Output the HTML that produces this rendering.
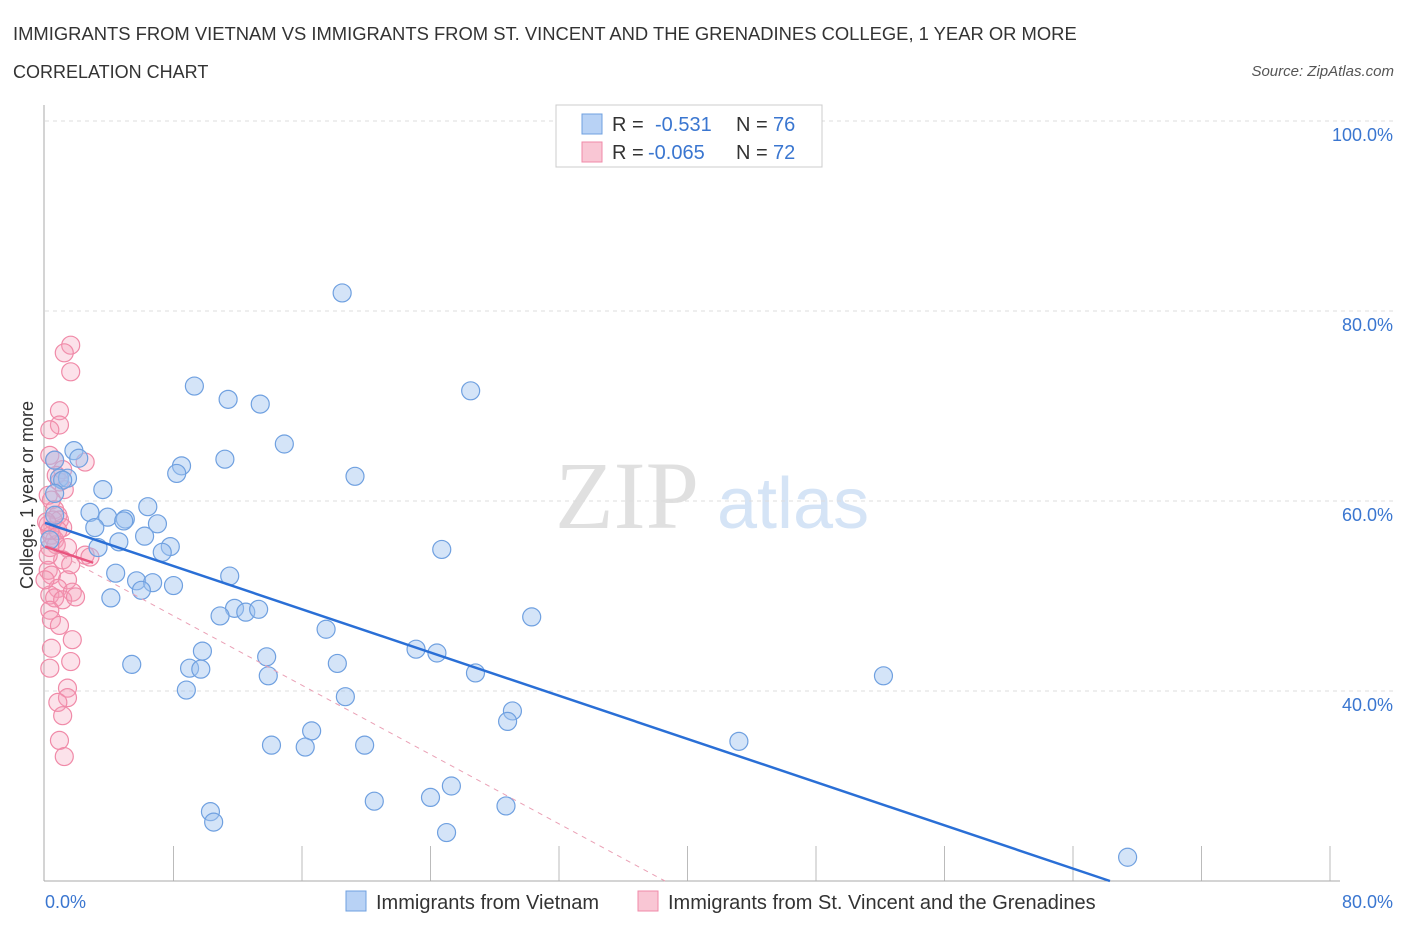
<!DOCTYPE html>
<html><head><meta charset="utf-8"><style>
body{margin:0;background:#fff;font-family:"Liberation Sans",sans-serif}
svg{display:block}
</style></head><body>
<svg width="1406" height="930" id="chart">
<text x="13" y="40" font-size="18.4" fill="#333">IMMIGRANTS FROM VIETNAM VS IMMIGRANTS FROM ST. VINCENT AND THE GRENADINES COLLEGE, 1 YEAR OR MORE</text>
<text x="13" y="78" font-size="18" fill="#333">CORRELATION CHART</text>
<text x="1394" y="76" font-size="15" fill="#555" font-style="italic" text-anchor="end">Source: ZipAtlas.com</text>
<g>
<text x="555" y="528" font-size="96" font-family="Liberation Serif,serif" fill="#e0e0e0">ZIP</text>
<text x="717" y="528" font-size="72" fill="#d5e4f6">atlas</text>
</g>
<g id="grid"></g>
<g id="marks"></g>
<g>
<rect x="556" y="105" width="266" height="62" fill="#fff" stroke="#ccc"/>
<rect x="582" y="114" width="20" height="20" fill="#b8d2f5" stroke="#6fa0e0"/>
<rect x="582" y="142" width="20" height="20" fill="#f9c6d4" stroke="#f08aa8"/>
<text x="612" y="131" font-size="20" fill="#333">R =</text>
<text x="655" y="131" font-size="20" fill="#3a76d0">-0.531</text>
<text x="736" y="131" font-size="20" fill="#333">N =</text>
<text x="773" y="131" font-size="20" fill="#3a76d0">76</text>
<text x="612" y="159" font-size="20" fill="#333">R =</text>
<text x="648" y="159" font-size="20" fill="#3a76d0">-0.065</text>
<text x="736" y="159" font-size="20" fill="#333">N =</text>
<text x="773" y="159" font-size="20" fill="#3a76d0">72</text>
</g>
<g>
<rect x="346" y="891" width="20" height="20" fill="#b8d2f5" stroke="#6fa0e0"/>
<text x="376" y="909" font-size="20" fill="#333">Immigrants from Vietnam</text>
<rect x="638" y="891" width="20" height="20" fill="#f9c6d4" stroke="#f08aa8"/>
<text x="668" y="909" font-size="20" fill="#333">Immigrants from St. Vincent and the Grenadines</text>
</g>
<text x="33" y="495" font-size="18" fill="#333" text-anchor="middle" transform="rotate(-90 33 495)">College, 1 year or more</text>
</svg>
<script>
const xTicks=[0,80];
const yTicks=[40,60,80,100];
const blueX=[18.5,9.3,11.4,13.4,26.5,14.9,1.8,2.1,11.2,8.5,8.2,19.3,0.9,1.4,1.1,3.6,0.6,6.4,2.8,3.9,5.0,4.9,3.1,7.0,6.2,4.6,3.3,7.8,7.3,24.7,4.4,11.5,5.7,6.7,8.0,6.0,4.1,11.8,12.5,13.3,10.9,30.3,17.5,23.1,9.8,24.4,13.8,18.2,5.4,9.0,9.7,13.9,26.8,52.2,8.8,18.7,29.1,28.8,16.6,14.1,16.2,19.9,43.2,25.3,24.0,20.5,28.7,10.3,10.5,25.0,67.4,0.6,0.6,0.3];
const blueY=[81.9,72.1,70.7,70.2,71.6,66.0,65.3,64.5,64.4,63.7,62.9,62.6,62.4,62.4,62.2,61.2,60.8,59.4,58.8,58.3,58.1,57.9,57.2,57.6,56.3,55.7,55.1,55.2,54.6,54.9,52.4,52.1,51.6,51.4,51.1,50.6,49.8,48.7,48.3,48.6,47.9,47.8,46.5,44.4,44.2,44.0,43.6,42.9,42.8,42.4,42.3,41.6,41.9,41.6,40.1,39.4,37.9,36.8,35.8,34.3,34.1,34.3,34.7,30.0,28.8,28.4,27.9,27.3,26.2,25.1,22.5,64.3,58.5,55.9];
const pinkX=[1.6,1.2,1.6,0.9,0.9,0.3,0.3,0.6,2.5,1.1,0.7,0.9,1.2,0.2,0.4,0.6,0.8,0.9,0.2,1.1,0.4,0.6,0.7,0.3,1.4,2.5,2.8,1.1,1.6,0.2,0.4,1.4,0.8,1.7,0.3,0.6,1.1,1.9,0.3,0.4,0.9,1.7,0.4,1.6,0.3,1.4,1.4,0.8,1.1,0.9,1.2,0.2,0.3,0.5,0.8,0.0,0.1];
const pinkY=[76.4,75.6,73.6,69.5,68.0,67.5,64.8,64.3,64.1,63.3,62.7,62.0,61.2,60.6,60.1,59.1,58.5,58.0,57.5,57.2,56.4,55.9,55.4,55.1,55.1,54.3,54.1,53.8,53.3,52.7,52.2,51.7,50.8,50.4,50.1,49.8,49.6,49.9,48.5,47.5,46.9,45.4,44.5,43.1,42.4,40.3,39.3,38.8,37.4,34.8,33.1,54.3,56.9,58.0,56.9,51.7,57.8];
const blueTrend=[[0,57.7],[66.3,20]];
const pinkSolid=[[0,55.2],[3,53.5]];
const pinkDash=[[0,55.2],[38.6,20]];
const NS='http://www.w3.org/2000/svg';
const X=v=>45+v/80*1285, Y=v=>881-(v-20)*9.5;
const grid=document.getElementById('grid'), marks=document.getElementById('marks');
function mk(tag,attrs,parent){const e=document.createElementNS(NS,tag);for(const k in attrs)e.setAttribute(k,attrs[k]);parent.appendChild(e);return e;}
yTicks.forEach(t=>{
 const l=mk('line',{x1:45,x2:1395,y1:Y(t),y2:Y(t),stroke:'#ddd','stroke-dasharray':'4 4'},grid);
 
 
 const tx=mk('text',{x:1393,y:Y(t)+20,'font-size':18,fill:'#3a76d0','text-anchor':'end'},grid);
 tx.textContent=t.toFixed(1)+'%';
 
 
});
for(let i=1;i<=10;i++){
 const l=mk('line',{x1:X(i*8),x2:X(i*8),y1:846,y2:881,stroke:'#bbb'},grid);
 
 
}
const ya=mk('line',{x1:44,x2:44,y1:105,y2:881,stroke:'#aaa'},grid);


const xa=mk('line',{x1:44,x2:1340,y1:881,y2:881,stroke:'#aaa'},grid);


xTicks.forEach((t,i)=>{
 const tx=mk('text',{x:i?1393:45,y:908,'font-size':18,fill:'#3a76d0','text-anchor':i?'end':'start'},grid);
 tx.textContent=t.toFixed(1)+'%';
 
 
});
pinkX.forEach((v,i)=>{
 const c=mk('circle',{cx:X(v),cy:Y(pinkY[i]),r:9,fill:'rgba(245,160,185,0.3)',stroke:'#f08aa8','stroke-width':1.2},marks);
 
 
});
blueX.forEach((v,i)=>{
 const c=mk('circle',{cx:X(v),cy:Y(blueY[i]),r:9,fill:'rgba(160,196,240,0.45)',stroke:'#6fa0e0','stroke-width':1.2},marks);
 
 
});
const bt=mk('line',{x1:X(blueTrend[0][0]),y1:Y(blueTrend[0][1]),x2:X(blueTrend[1][0]),y2:Y(blueTrend[1][1]),stroke:'#2a6fd6','stroke-width':2.5},marks);


const pd=mk('line',{x1:X(pinkDash[0][0]),y1:Y(pinkDash[0][1]),x2:X(pinkDash[1][0]),y2:Y(pinkDash[1][1]),stroke:'#eaa0b5','stroke-width':1,'stroke-dasharray':'5 5'},marks);


const ps=mk('line',{x1:X(pinkSolid[0][0]),y1:Y(pinkSolid[0][1]),x2:X(pinkSolid[1][0]),y2:Y(pinkSolid[1][1]),stroke:'#e8557f','stroke-width':2.5},marks);


</script>
</body></html>
